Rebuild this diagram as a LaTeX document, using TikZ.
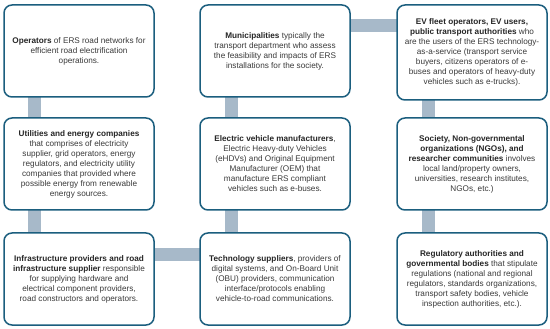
\documentclass[tikz,border=0pt]{standalone}
\usepackage{fontspec}
\setmainfont{Liberation Sans}
\usetikzlibrary{backgrounds}
\definecolor{boxline}{HTML}{1B5E7E}
\definecolor{barcol}{HTML}{A7B9C9}
\definecolor{txt}{HTML}{3A3A3A}
\tikzset{
  box/.style={draw=boxline, line width=1.5pt, fill=white, rounded corners=8pt,
    minimum width=150pt, minimum height=92pt, inner sep=0pt, align=center,
    text=txt, font=\fontsize{8.2}{10}\selectfont},
  bar/.style={draw=barcol, line width=13pt},
}
\newcommand{\hb}[1]{\textbf{\color{black!85}#1}}
\begin{document}
\begin{tikzpicture}[x=1pt,y=-1pt]
\useasboundingbox (0,0) rectangle (550,329);
\node[box] (b1) at (79,51) {\hb{Operators} of ERS road networks for\\efficient road electrification\\operations.};
\node[box] (b2) at (275,51) {\hb{Municipalities} typically the\\transport department who assess\\the feasibility and impacts of ERS\\installations for the society.};
\node[box, minimum height=95pt] (b3) at (472,52.5) {\hb{EV fleet operators, EV users,}\\\hb{public transport authorities} who\\are the users of the ERS technology-\\as-a-service (transport service\\buyers, citizens operators of e-\\buses and operators of heavy-duty\\vehicles such as e-trucks).};
\node[box] (b4) at (79,164) {\hb{Utilities and energy companies}\\that comprises of electricity\\supplier, grid operators, energy\\regulators, and electricity utility\\companies that provided where\\possible energy from renewable\\energy sources.};
\node[box] (b5) at (275,164) {\hb{Electric vehicle manufacturers},\\Electric Heavy-duty Vehicles\\(eHDVs) and Original Equipment\\Manufacturer (OEM) that\\manufacture ERS compliant\\vehicles such as e-buses.};
\node[box] (b6) at (472,164) {\hb{Society, Non-governmental}\\\hb{organizations (NGOs), and}\\\hb{researcher communities} involves\\local land/property owners,\\universities, research institutes,\\NGOs, etc.)};
\node[box] (b7) at (79,279) {\hb{Infrastructure providers and road}\\\hb{infrastructure supplier} responsible\\for supplying hardware and\\electrical component providers,\\road constructors and operators.};
\node[box] (b8) at (275,279) {\hb{Technology suppliers}, providers of\\digital systems, and On-Board Unit\\(OBU) providers, communication\\interface/protocols enabling\\vehicle-to-road communications.};
\node[box] (b9) at (472,279) {\hb{Regulatory authorities and}\\\hb{governmental bodies} that stipulate\\regulations (national and regional\\regulators, standards organizations,\\transport safety bodies, vehicle\\inspection authorities, etc.).};
\begin{scope}[on background layer]
\draw[bar] ([xshift=-44.5pt]b1.center) -- ([xshift=-44.5pt]b4.center);
\draw[bar] ([xshift=-44.5pt]b4.center) -- ([xshift=-44.5pt]b7.center);
\draw[bar] ([yshift=24.5pt]b7.center) -- ([yshift=24.5pt]b8.center);
\draw[bar] ([xshift=-44pt]b8.center) -- ([xshift=-44pt]b5.center);
\draw[bar] ([xshift=-44pt]b5.center) -- ([xshift=-44pt]b2.center);
\draw[bar] ([yshift=25pt]b2.center) -- ([yshift=26.5pt]b3.center);
\draw[bar] ([xshift=-44pt]b3.center) -- ([xshift=-44pt]b6.center);
\draw[bar] ([xshift=-44pt]b6.center) -- ([xshift=-44pt]b9.center);
\end{scope}
\end{tikzpicture}
\end{document}
